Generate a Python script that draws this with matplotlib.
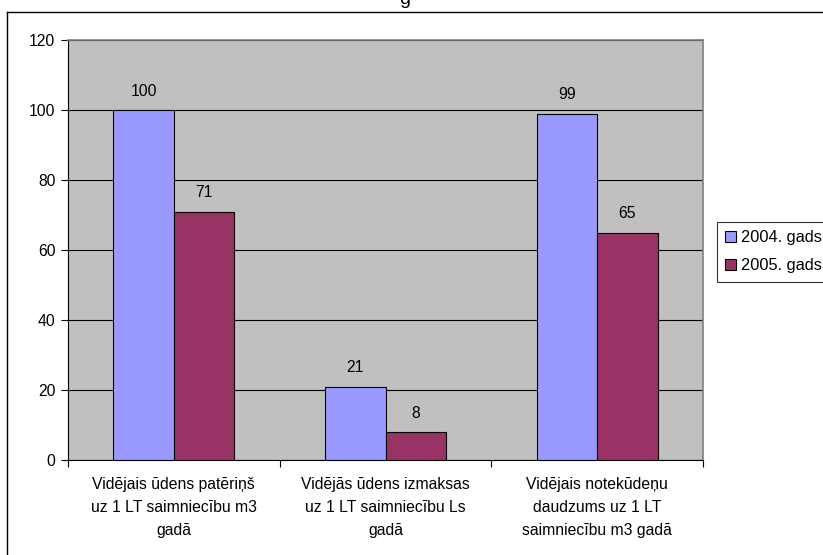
import matplotlib.pyplot as plt
import numpy as np
from matplotlib.lines import Line2D
from matplotlib.patches import Patch

plt.rcParams['font.family'] = ['Liberation Sans', 'DejaVu Sans']

categories = ['Vidējais ūdens patēriņš\nuz 1 LT saimniecību m3\ngadā',
              'Vidējās ūdens izmaksas\nuz 1 LT saimniecību Ls\ngadā',
              'Vidējais notekūdeņu\ndaudzums uz 1 LT\nsaimniecību m3 gadā']
series_names = ['2004. gads', '2005. gads']
vals_2004 = [100, 21, 99]
vals_2005 = [71, 8, 65]
colors = ['#9999FF', '#993366']

fs = 11.3

fig = plt.figure(figsize=[8.23, 5.55], dpi=100)
ax = fig.add_axes([68/823, 1-460/555, (703-68)/823, (460-40)/555])
ax.set_facecolor('#C0C0C0')

x = np.arange(len(categories)) + 0.5
w = 0.286
for i, (vals, col) in enumerate(zip([vals_2004, vals_2005], colors)):
    xs = x + (i - 0.5)*w
    ax.bar(xs, vals, w, color=col, edgecolor='black', linewidth=0.8, zorder=3)
    for xi, v in zip(xs, vals):
        ax.text(xi, v + 3.2, str(v), ha='center', va='bottom', fontsize=fs, zorder=4)

ax.set_xlim(0, 3)
ax.set_ylim(0, 120)
ax.set_yticks(np.arange(0, 121, 20))
ax.yaxis.grid(True, color='black', linewidth=0.8, zorder=1)
ax.set_axisbelow(True)
ax.set_xticks([0, 1, 2, 3])
ax.set_xticklabels([])
ax.set_xticks(x, minor=True)
ax.set_xticklabels(categories, minor=True, fontsize=fs, linespacing=1.7)
ax.tick_params(axis='x', which='minor', length=0, pad=12)
ax.tick_params(axis='x', which='major', length=5, color='black', direction='out')
ax.tick_params(axis='y', length=5, labelsize=fs, pad=4)

for s in ['top', 'right']:
    ax.spines[s].set_color('#808080')
    ax.spines[s].set_linewidth(1.2)
for s in ['left', 'bottom']:
    ax.spines[s].set_color('black')
    ax.spines[s].set_linewidth(0.8)

handles = [Patch(facecolor=c, edgecolor='black', linewidth=0.8) for c in colors]
leg = fig.legend(handles, series_names, loc='upper left',
                 bbox_to_anchor=(717/823, 1-222/555), frameon=True, fancybox=False,
                 edgecolor='black', fontsize=fs + 0.5, handlelength=0.65, handleheight=0.65,
                 handletextpad=0.3, borderpad=0.5, labelspacing=0.8, borderaxespad=0)
leg.get_frame().set_linewidth(0.8)

# outer chart border (cut off on right and bottom)
fig.add_artist(Line2D([7/823, 7/823], [0, 1-12/555], color='black', linewidth=1.0))
fig.add_artist(Line2D([7/823, 1], [1-12/555, 1-12/555], color='black', linewidth=1.0))

# cropped title
fig.text(405/823, 1.0, 'g', ha='center', va='center', fontsize=14)

fig.savefig('out.png', dpi=100)
